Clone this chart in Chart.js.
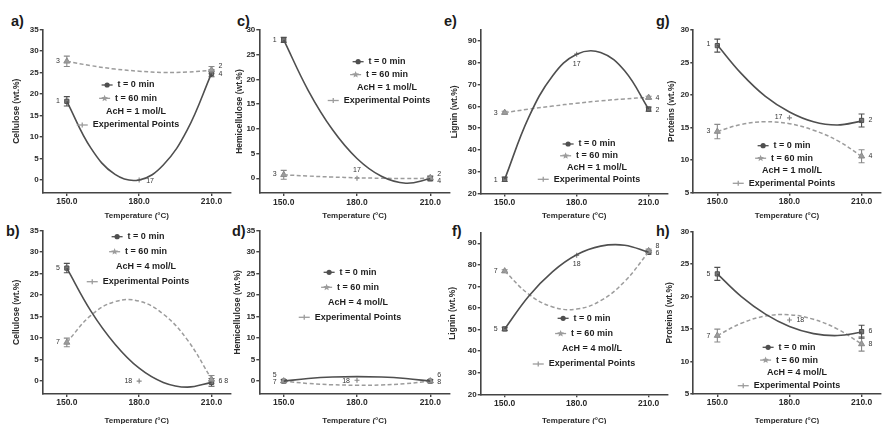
<!DOCTYPE html>
<html>
<head>
<meta charset="utf-8">
<script src="https://cdn.jsdelivr.net/npm/chart.js@4.4.0/dist/chart.umd.min.js"></script>
<style>
body{margin:0;width:883px;height:424px;overflow:hidden;background:#fff;position:relative;font-family:"Liberation Sans",Arial,sans-serif}
canvas{position:absolute}
.lbl{position:absolute;font-weight:bold;font-size:14.5px;color:#1a1a1a;line-height:16px}
</style>
</head>
<body>
<div class="lbl" style="left:11px;top:13px">a)</div>
<div class="lbl" style="left:237px;top:13px">c)</div>
<div class="lbl" style="left:444px;top:13px">e)</div>
<div class="lbl" style="left:656px;top:13px">g)</div>
<div class="lbl" style="left:6px;top:223px">b)</div>
<div class="lbl" style="left:232px;top:223px">d)</div>
<div class="lbl" style="left:452px;top:223px">f)</div>
<div class="lbl" style="left:656px;top:223px">h)</div>
<script>
// temperatures
const curveTemps = [150, 160, 170, 180, 190, 200, 210];
const pointTemps = [150, 210];
const xTicks = [150, 180, 210];
const ticksCel = [0, 5, 10, 15, 20, 25, 30, 35];
const ticksHemi1 = [0, 5, 10, 15, 20, 25, 30];
const ticksLig = [20, 30, 40, 50, 60, 70, 80, 90];
const ticksProt = [5, 10, 15, 20, 25, 30];

// a) cellulose, AcH = 1 mol/L
const aCurve0 = [18.3, 7.4, 1.3, 0, 3.5, 11.7, 24.8];
const aCurve60 = [27.6, 26.6, 25.8, 25.3, 25.0, 25.1, 25.5];
const aPts0 = [18.3, 24.8], aErr0 = [1.1, 0.8];
const aPts60 = [27.6, 25.6], aErr60 = [1.2, 0.8];
const aExp = 0;
const aLabels = [['3', 150, 27.6, 'l'], ['1', 150, 18.3, 'l'], ['2', 210, 26.4, 'r'], ['4', 210, 24.6, 'r'], ['17', 180, -0.3, 'r']];

// c) hemicellulose, AcH = 1 mol/L
const cCurve0 = [28.0, 17.8, 9.8, 4.0, 0.4, -1.0, -0.1];
const cCurve60 = [0.7, 0.45, 0.25, 0.1, 0.0, -0.05, 0.0];
const cPts0 = [28.0, -0.1], cErr0 = [0.5, 0.4];
const cPts60 = [0.7, 0.1], cErr60 = [0.9, 0.4];
const cExp = 0;
const cLabels = [['1', 150, 28.0, 'l'], ['3', 150, 0.8, 'l'], ['17', 180, 1.6, 'c'], ['2', 210, 0.9, 'r'], ['4', 210, -0.5, 'r']];

// e) lignin, AcH = 1 mol/L
const eCurve0 = [26.5, 54.9, 74.0, 83.9, 84.7, 76.3, 58.7];
const eCurve60 = [57.1, 58.7, 60.1, 61.4, 62.5, 63.4, 64.1];
const ePts0 = [26.5, 58.7], eErr0 = [1.0, 1.0];
const ePts60 = [57.1, 64.0], eErr60 = [0.6, 0.6];
const eExp = 83.9;
const eLabels = [['1', 150, 26.3, 'l'], ['3', 150, 57.0, 'l'], ['17', 180, 79.5, 'c'], ['4', 210, 64.0, 'r'], ['2', 210, 58.5, 'r']];

// g) proteins, AcH = 1 mol/L
const gCurve0 = [27.7, 23.3, 19.8, 17.4, 15.9, 15.4, 16.0];
const gCurve60 = [14.4, 15.5, 15.9, 15.6, 14.6, 13.0, 10.6];
const gPts0 = [27.6, 16.1], gErr0 = [1.0, 1.0];
const gPts60 = [14.4, 10.6], gErr60 = [1.1, 1.0];
const gExp = 16.5;
const gLabels = [['1', 150, 27.9, 'l'], ['3', 150, 14.4, 'l'], ['17', 180, 16.6, 'l'], ['2', 210, 16.2, 'r'], ['4', 210, 10.6, 'r']];

// b) cellulose, AcH = 4 mol/L
const bCurve0 = [26.3, 16.3, 8.6, 3.0, -0.3, -1.4, -0.3];
const bCurve60 = [9.0, 15.3, 18.5, 18.6, 15.6, 9.6, 0.5];
const bPts0 = [26.3, -0.3], bErr0 = [1.1, 0.9];
const bPts60 = [9.0, 0.4], bErr60 = [1.0, 0.9];
const bExp = 0;
const bLabels = [['5', 150, 26.3, 'l'], ['7', 150, 9.0, 'l'], ['18', 180, 0, 'l'], ['6 8', 210, 0, 'r']];

// d) hemicellulose, AcH = 4 mol/L
const dCurve0 = [0, 0.6, 0.95, 1.05, 0.95, 0.6, 0];
const dCurve60 = [0, -0.55, -0.85, -0.95, -0.9, -0.6, 0];
const dPts0 = [0, 0], dErr0 = [0.3, 0.3];
const dPts60 = [0, 0], dErr60 = [0.3, 0.3];
const dExp = 0.2;
const dLabels = [['5', 150, 1.4, 'l'], ['7', 150, -0.3, 'l'], ['18', 180, 0.1, 'l'], ['6', 210, 1.4, 'r'], ['8', 210, -0.3, 'r']];

// f) lignin, AcH = 4 mol/L
const fCurve0 = [50.3, 65.5, 76.9, 84.7, 88.7, 89.1, 85.8];
const fCurve60 = [77.1, 66.4, 60.5, 59.5, 63.4, 72.3, 86.0];
const fPts0 = [50.3, 85.8], fErr0 = [0.8, 0.8];
const fPts60 = [77.1, 86.5], fErr60 = [0.6, 0.8];
const fExp = 84.4;
const fLabels = [['5', 150, 50.3, 'l'], ['7', 150, 77.1, 'l'], ['18', 180, 80.5, 'c'], ['8', 210, 88.5, 'r'], ['6', 210, 85.3, 'r']];

// h) proteins, AcH = 4 mol/L
const hCurve0 = [23.5, 20.0, 17.3, 15.4, 14.3, 14.0, 14.5];
const hCurve60 = [14.0, 15.9, 17.0, 17.2, 16.5, 15.0, 12.7];
const hPts0 = [23.5, 14.6], hErr0 = [1.0, 1.0];
const hPts60 = [14.0, 12.7], hErr60 = [1.0, 1.1];
const hExp = 16.4;
const hLabels = [['5', 150, 23.5, 'l'], ['7', 150, 14.0, 'l'], ['18', 180, 16.4, 'r'], ['6', 210, 14.7, 'r'], ['8', 210, 12.7, 'r']];

const FONT = '"Liberation Sans", Arial, sans-serif';
const DARK = '#4f4f4f', LIGHT = '#9c9c9c', AXIS = '#444';

// error bars under the markers
const errBars = {
  id: 'errBars',
  beforeDatasetsDraw(chart) {
    const ctx = chart.ctx, ys = chart.scales.y;
    chart.data.datasets.forEach((ds, i) => {
      if (!ds.errs) return;
      chart.getDatasetMeta(i).data.forEach((el, j) => {
        const v = ds.data[j].y, e = ds.errs[j];
        const y1 = ys.getPixelForValue(v + e), y2 = ys.getPixelForValue(v - e);
        ctx.save();
        ctx.strokeStyle = ds.borderColor;
        ctx.lineWidth = 1.1;
        ctx.beginPath();
        ctx.moveTo(el.x, y1); ctx.lineTo(el.x, y2);
        ctx.moveTo(el.x - 3, y1); ctx.lineTo(el.x + 3, y1);
        ctx.moveTo(el.x - 3, y2); ctx.lineTo(el.x + 3, y2);
        ctx.stroke();
        ctx.restore();
      });
    });
  }
};

function numLabels(items) {
  return {
    id: 'numLabels',
    afterDraw(chart) {
      const ctx = chart.ctx;
      ctx.save();
      ctx.font = '7px ' + FONT;
      ctx.fillStyle = '#333';
      ctx.textBaseline = 'middle';
      items.forEach(([t, x, y, side]) => {
        const px = chart.scales.x.getPixelForValue(x), py = chart.scales.y.getPixelForValue(y);
        if (side === 'l') { ctx.textAlign = 'right'; ctx.fillText(t, px - 7, py); }
        else if (side === 'r') { ctx.textAlign = 'left'; ctx.fillText(t, px + 7, py); }
        else { ctx.textAlign = 'center'; ctx.fillText(t, px, py); }
      });
      ctx.restore();
    }
  };
}

function star(ctx, x, y, r) {
  ctx.beginPath();
  for (let k = 0; k < 10; k++) {
    const a = -Math.PI / 2 + k * Math.PI / 5, rr = k % 2 ? r * 0.45 : r;
    ctx.lineTo(x + rr * Math.cos(a), y + rr * Math.sin(a));
  }
  ctx.closePath();
  ctx.fill();
}

function boxLegend(cx, y0, y1, ach) {
  return {
    id: 'boxLegend',
    afterDraw(chart) {
      const ctx = chart.ctx;
      const rows = [['circle', 't = 0 min'], ['star', 't = 60 min'], [null, ach], ['cross', 'Experimental Points']];
      const step = (y1 - y0) / 3;
      ctx.save();
      ctx.font = 'bold 9px ' + FONT;
      ctx.textBaseline = 'middle';
      rows.forEach(([m, t], i) => {
        const y = y0 + i * step;
        const tw = ctx.measureText(t).width;
        const tx = cx - tw / 2;
        if (m) {
          const col = m === 'circle' ? DARK : LIGHT;
          ctx.strokeStyle = col; ctx.fillStyle = col; ctx.lineWidth = 1.3;
          ctx.beginPath(); ctx.moveTo(tx - 16, y); ctx.lineTo(tx - 5, y); ctx.stroke();
          if (m === 'circle') { ctx.beginPath(); ctx.arc(tx - 10.5, y, 2.6, 0, Math.PI * 2); ctx.fill(); }
          else if (m === 'star') star(ctx, tx - 10.5, y, 3.6);
          else { ctx.beginPath(); ctx.moveTo(tx - 10.5, y - 2.5); ctx.lineTo(tx - 10.5, y + 2.5); ctx.stroke(); }
        }
        ctx.fillStyle = '#1e1e1e';
        ctx.textAlign = 'left';
        ctx.fillText(t, tx, y);
      });
      ctx.restore();
    }
  };
}

function xy(xs, ys) { return xs.map((x, i) => ({x: x, y: ys[i]})); }

function makePanel(p) {
  const [L, T, R, B] = p.box;
  const cl = Math.round(p.titleX - 5);
  const ct = p.row ? 220 : 18;
  const cb = p.row ? 426 : 221;
  const cw = Math.ceil(R) + 3 - cl;
  const ch = cb - ct;
  const cv = document.createElement('canvas');
  cv.width = cw; cv.height = ch;
  cv.style.left = cl + 'px'; cv.style.top = ct + 'px';
  document.body.appendChild(cv);
  const yW = L - cl, xH = cb - B;
  const tickFont = {family: FONT, size: 8, weight: 'bold'};

  new Chart(cv, {
    type: 'line',
    data: {
      datasets: [
        {data: xy(curveTemps, p.c0), borderColor: DARK, borderWidth: 1.6, pointRadius: 0, tension: 0.4, fill: false},
        {data: xy(curveTemps, p.c60), borderColor: LIGHT, borderWidth: 1.5, borderDash: [4, 2.5], pointRadius: 0, tension: 0.4, fill: false},
        {data: xy(pointTemps, p.p60), errs: p.e60, showLine: false, pointStyle: 'triangle', pointRadius: 3.5, backgroundColor: LIGHT, borderColor: '#8a8a8a', borderWidth: 1},
        {data: xy(pointTemps, p.p0), errs: p.e0, showLine: false, pointStyle: 'rect', pointRadius: 3, backgroundColor: '#777', borderColor: DARK, borderWidth: 1},
        {data: [{x: 180, y: p.exp}], showLine: false, pointStyle: 'cross', pointRadius: 2.5, borderColor: '#888', borderWidth: 1.2}
      ]
    },
    options: {
      responsive: false,
      animation: false,
      events: [],
      layout: {padding: {top: T - ct, right: cl + cw - R, left: 0, bottom: 0}},
      plugins: {legend: {display: false}, tooltip: {enabled: false}},
      scales: {
        x: {
          type: 'linear', min: 140, max: 218,
          afterBuildTicks: s => { s.ticks = xTicks.map(v => ({value: v})); },
          afterFit: s => { s.height = xH; },
          ticks: {callback: v => v.toFixed(1), font: {family: FONT, size: 8.5, weight: 'bold'}, color: '#2a2a2a', padding: 1, maxRotation: 0, autoSkip: false},
          grid: {drawOnChartArea: false, tickLength: 3, color: AXIS, lineWidth: 1.4},
          border: {color: AXIS, width: 1.6},
          title: {display: true, text: 'Temperature (°C)', font: {family: FONT, size: 8, weight: 'bold'}, color: '#2a2a2a', padding: 0}
        },
        y: {
          min: p.yMin, max: p.yMax,
          afterBuildTicks: s => { s.ticks = p.yTicks.map(v => ({value: v})); },
          afterFit: s => { s.width = yW; },
          ticks: {font: tickFont, color: '#2a2a2a', padding: 1, autoSkip: false},
          grid: {drawOnChartArea: false, tickLength: 3, color: AXIS, lineWidth: 1.4},
          border: {color: AXIS, width: 1.6},
          title: {display: true, text: p.yTitle, font: {family: FONT, size: 8.5, weight: 'bold'}, color: '#2a2a2a', padding: 0}
        }
      }
    },
    plugins: [errBars, numLabels(p.labels), boxLegend(p.legend[0] - cl, p.legend[1] - ct, p.legend[2] - ct, p.ach)]
  });
}

const ach1 = 'AcH = 1 mol/L', ach4 = 'AcH = 4 mol/L';
const panels = [
  {c0: aCurve0, c60: aCurve60, p0: aPts0, e0: aErr0, p60: aPts60, e60: aErr60, exp: aExp, labels: aLabels, yTitle: 'Cellulose (wt.%)', ach: ach1, yMin: -3, yMax: 35, yTicks: ticksCel,
   row: 0, box: [42.7, 29.5, 232.2, 192.9], titleX: 16.7, legend: [136, 85, 125]},
  {c0: cCurve0, c60: cCurve60, p0: cPts0, e0: cErr0, p60: cPts60, e60: cErr60, exp: cExp, labels: cLabels, yTitle: 'Hemicellulose (wt.%)', ach: ach1, yMin: -3, yMax: 30, yTicks: ticksHemi1,
   row: 0, box: [259.3, 30, 451.3, 193.1], titleX: 240, legend: [387, 61.7, 100.5]},
  {c0: eCurve0, c60: eCurve60, p0: ePts0, e0: eErr0, p60: ePts60, e60: eErr60, exp: eExp, labels: eLabels, yTitle: 'Lignin (wt.%)', ach: ach1, yMin: 20, yMax: 95, yTicks: ticksLig,
   row: 0, box: [480.7, 30, 669.2, 193.5], titleX: 455, legend: [597, 144, 179.3]},
  {c0: gCurve0, c60: gCurve60, p0: gPts0, e0: gErr0, p60: gPts60, e60: gErr60, exp: gExp, labels: gLabels, yTitle: 'Proteins (wt.%)', ach: ach1, yMin: 5, yMax: 30, yTicks: ticksProt,
   row: 0, box: [693.3, 30, 882.6, 192.7], titleX: 671.7, legend: [792, 145.7, 183.3]},
  {c0: bCurve0, c60: bCurve60, p0: bPts0, e0: bErr0, p60: bPts60, e60: bErr60, exp: bExp, labels: bLabels, yTitle: 'Cellulose (wt.%)', ach: ach4, yMin: -3, yMax: 35, yTicks: ticksCel,
   row: 1, box: [42.7, 230.7, 232.2, 394], titleX: 16.7, legend: [146, 236.7, 281.7]},
  {c0: dCurve0, c60: dCurve60, p0: dPts0, e0: dErr0, p60: dPts60, e60: dErr60, exp: dExp, labels: dLabels, yTitle: 'Hemicellulose (wt.%)', ach: ach4, yMin: -3, yMax: 35, yTicks: ticksCel,
   row: 1, box: [259.3, 230.7, 451.3, 394], titleX: 238.3, legend: [358, 272.3, 317.3]},
  {c0: fCurve0, c60: fCurve60, p0: fPts0, e0: fErr0, p60: fPts60, e60: fErr60, exp: fExp, labels: fLabels, yTitle: 'Lignin (wt.%)', ach: ach4, yMin: 20, yMax: 95, yTicks: ticksLig,
   row: 1, box: [480.7, 232.5, 669.2, 394.3], titleX: 453.3, legend: [592, 318.3, 364]},
  {c0: hCurve0, c60: hCurve60, p0: hPts0, e0: hErr0, p60: hPts60, e60: hErr60, exp: hExp, labels: hLabels, yTitle: 'Proteins (wt.%)', ach: ach4, yMin: 5, yMax: 30, yTicks: ticksProt,
   row: 1, box: [693.3, 231.7, 882.6, 394], titleX: 670, legend: [797, 347.3, 385.7]}
];

panels.forEach(makePanel);
</script>
</body>
</html>
